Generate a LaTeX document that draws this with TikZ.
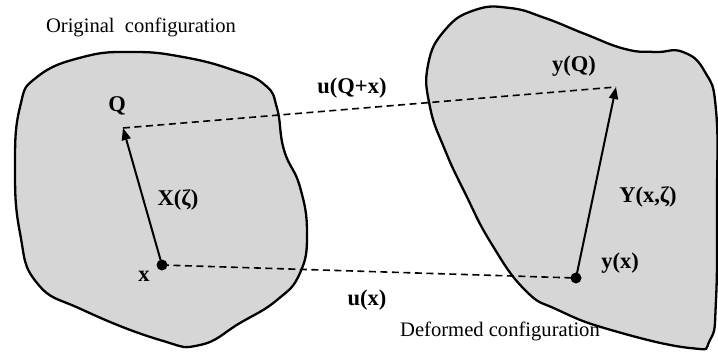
\documentclass[tikz,border=0pt]{standalone}
\usepackage{fontspec}
\setmainfont{Liberation Serif}
\usetikzlibrary{arrows.meta}
\tikzset{
  blob/.style={draw=black, line width=2.3pt, fill=black!16},
  vec/.style={line width=2pt, -{Triangle[length=12pt,width=9pt]}},
  dashline/.style={dashed, dash pattern=on 7pt off 4.5pt, line width=1.6pt},
  lbl/.style={inner sep=0pt, font=\fontsize{22.5}{26}\selectfont\bfseries},
  captext/.style={inner sep=0pt, font=\fontsize{20.6}{24}\selectfont},
  dot/.style={circle, fill=black, inner sep=0pt, minimum size=11pt}
}
\begin{document}
\begin{tikzpicture}[x=1pt,y=-1pt]
\useasboundingbox (0,0) rectangle (718,351);
% left blob
\draw[blob] plot[smooth cycle, tension=0.8] coordinates {
 (37,77) (83,57) (133,52) (183,57) (233,70) (265,85) (277,108)
 (284,150) (300,187) (307,233) (300,273) (277,300) (240,323) (200,345)
 (160,340) (83,310) (37,283) (20,233) (15,167) (20,107)};
% right blob
\draw[blob] plot[smooth cycle, tension=0.8] coordinates {
 (445,30) (475,10) (510,8) (545,18) (585,34) (625,49) (655,52)
 (683,52) (705,72) (716,110) (717,200) (716,300) (710,340) (690,348)
 (611,330) (558,310) (525,290) (491,243) (465,193) (445,150) (430,107) (428,65)};
% points
\node[dot] (x) at (162,265) {};
\coordinate (Q) at (123,128);
\node[dot] (yx) at (576,278) {};
\coordinate (yQ) at (616,87);
% connectors
\draw[dashline] (x.center) -- (yx.center);
\draw[dashline] (Q) -- (yQ);
\draw[vec] (x.center) -- (Q);
\draw[vec] (yx.center) -- (yQ);
% labels
\node[lbl] (lQ) at (117,106) {Q};
\node[lbl] (lx) at (144,276) {x};
\node[lbl] (lX) at (178,200) {X(ζ)};
\node[lbl] (luQ) at (352,88) {u(Q+x)};
\node[lbl] (lux) at (367,300) {u(x)};
\node[lbl] (lyQ) at (574,66) {y(Q)};
\node[lbl] (lY) at (648,197) {Y(x,ζ)};
\node[lbl] (lyx) at (620,263) {y(x)};
\node[captext] (orig) at (141,27) {Original\ \ configuration};
\node[captext] (def) at (500,331) {Deformed configuration};
\end{tikzpicture}
\end{document}
